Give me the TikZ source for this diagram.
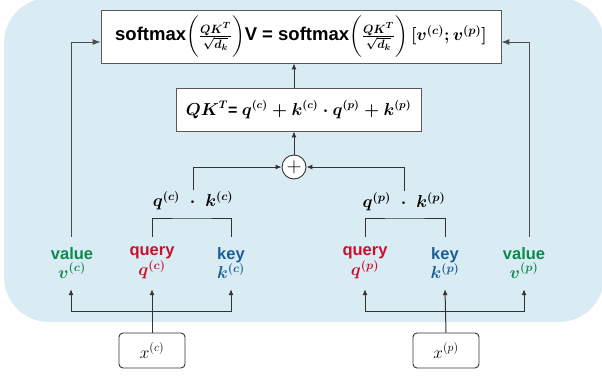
\documentclass[tikz,border=0pt]{standalone}
\usepackage{amsmath}
\usepackage{fontspec}
\setmainfont{Liberation Sans}
\usetikzlibrary{arrows.meta, positioning, calc}
\definecolor{bgblue}{RGB}{218, 236, 243}
\definecolor{valgreen}{RGB}{11, 138, 78}
\definecolor{qred}{RGB}{200, 16, 46}
\definecolor{kblue}{RGB}{27, 94, 150}

\begin{document}
\begin{tikzpicture}[x=1pt, y=-1pt,
  box/.style={draw=black!65, line width=0.8pt, fill=white, inner sep=0pt},
  xbox/.style={draw=black!80, line width=0.9pt, fill=white, rounded corners=4pt, minimum width=66pt, minimum height=35pt, inner sep=0pt, font=\fontsize{17}{19}\selectfont},
  lbl/.style={align=center, minimum height=52pt, inner sep=0pt, font=\fontsize{16.5}{18.5}\selectfont\bfseries\boldmath},
  arr/.style={draw=black!80, line width=1pt, -{Latex[length=6pt,width=5pt]}},
  link/.style={draw=black!80, line width=1pt},
  feed/.style={draw=black!70, line width=0.9pt, -{Latex[length=8pt,width=6pt]}}
]
  \useasboundingbox (0,0) rectangle (602,376);
  \fill[bgblue, rounded corners=45pt] (4,-2) rectangle (604,322);

  \node[box, minimum width=400pt, minimum height=53pt, font=\fontsize{18.5}{21}\selectfont\bfseries\boldmath] (attn) at (301,36.5)
    {softmax$\biggl(\frac{QK^{T}}{\sqrt{d_k}}\biggr)$V = softmax$\biggl(\frac{QK^{T}}{\sqrt{d_k}}\biggr)\,[v^{(c)}; v^{(p)}]$};
  \node[box, minimum width=245pt, minimum height=43pt, font=\fontsize{16}{18}\selectfont\bfseries\boldmath] (qkt) at (298.5,109.5)
    {$QK^{T}$= $q^{(c)} + k^{(c)}\cdot q^{(p)} + k^{(p)}$};
  \node[circle, draw=black!80, line width=0.9pt, fill=white, minimum size=24pt, inner sep=0pt, font=\fontsize{20}{20}\selectfont] (plus) at (294,167) {$+$};

  \node[inner sep=1pt, font=\fontsize{16.5}{18}\selectfont\boldmath] (dotc) at (193,201) {$q^{(c)}\;\cdot\;k^{(c)}$};
  \node[inner sep=1pt, font=\fontsize{16.5}{18}\selectfont\boldmath] (dotp) at (404,202) {$q^{(p)}\;\cdot\;k^{(p)}$};

  \node[lbl, text=valgreen] (vc) at (72,263) {value\\$v^{(c)}$};
  \node[lbl, text=qred] (qc) at (152,263) {query\\$q^{(c)}$};
  \node[lbl, text=kblue] (kc) at (231,263) {key\\$k^{(c)}$};
  \node[lbl, text=qred] (qp) at (365,263) {query\\$q^{(p)}$};
  \node[lbl, text=kblue] (kp) at (445,263) {key\\$k^{(p)}$};
  \node[lbl, text=valgreen] (vp) at (524,263) {value\\$v^{(p)}$};

  \node[xbox] (xc) at (152,350.5) {$x^{(c)}$};
  \node[xbox] (xp) at (446,350.5) {$x^{(p)}$};

  \coordinate (brc) at (192,218);
  \coordinate (brp) at (404,218);
  \coordinate (busc) at (152,311);
  \coordinate (busp) at (446,311);

  \draw[link] (qc.north) |- (brc) -| (kc.north);
  \draw[link] (qp.north) |- (brp) -| (kp.north);

  \draw[arr] (plus.north) -- (plus.north |- qkt.south);
  \draw[arr] (qkt.north -| plus) -- (attn.south -| plus);
  \draw[arr] (dotc.north) |- (plus.west);
  \draw[arr] (dotp.north) |- (plus.east);
  \draw[feed] ([xshift=-1pt]vc.north) |- ([yshift=-5.5pt]attn.west);
  \draw[feed] ([xshift=5pt]vp.north) |- ([yshift=-5.5pt]attn.east);

  \draw[arr] (xc.north) -- (qc.south);
  \draw[arr] (busc) -| ([xshift=-1pt]vc.south);
  \draw[arr] (busc) -| (kc.south);
  \draw[arr] (xp.north) -- (kp.south);
  \draw[arr] (busp) -| (qp.south);
  \draw[arr] (busp) -| (vp.south);
\end{tikzpicture}
\end{document}
